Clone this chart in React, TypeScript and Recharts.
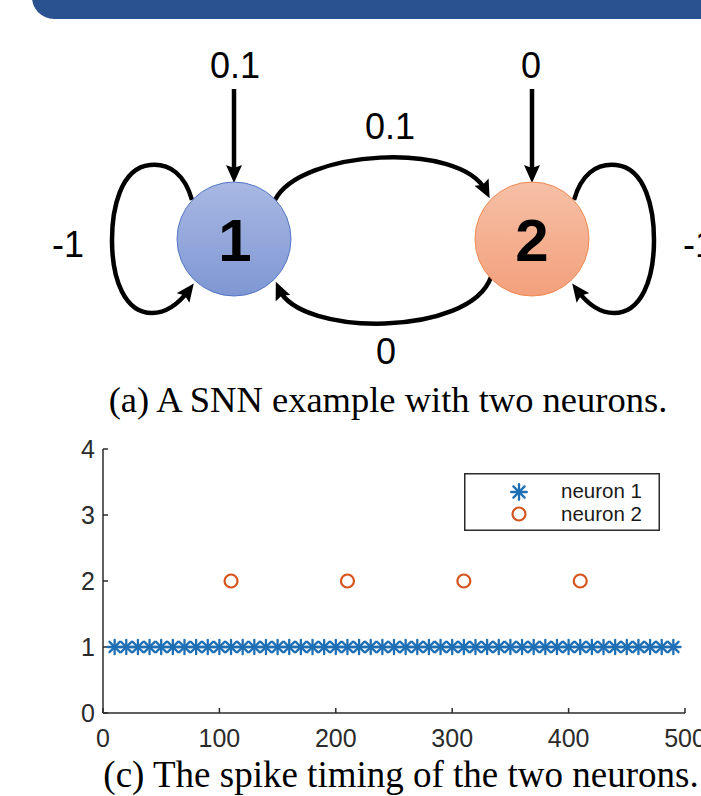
import React from "react"
import { ScatterChart, Scatter, XAxis, YAxis } from "recharts"

// ── Network weights (diagram) ─────────────────────────────────
const inputWeights = ["0.1", "0"]
const selfWeights = ["-1", "-1"]
const crossWeights = { w12: "0.1", w21: "0" }
const neuronNames = ["1", "2"]

// ── Spike timing (scatter) ────────────────────────────────────
const neuron1Times = [
  10, 20, 30, 40, 50, 60, 70, 80, 90, 100, 110, 120, 130, 140, 150, 160, 170,
  180, 190, 200, 210, 220, 230, 240, 250, 260, 270, 280, 290, 300, 310, 320,
  330, 340, 350, 360, 370, 380, 390, 400, 410, 420, 430, 440, 450, 460, 470,
  480, 490,
]
const neuron2Times = [110, 210, 310, 410]
const xTicks = [0, 100, 200, 300, 400, 500]
const yTicks = [0, 1, 2, 3, 4]
const seriesNames = ["neuron 1", "neuron 2"]

const BLUE = "#1F6FB5"
const ORANGE = "#D6541E"
const AXIS = "#2b2b2b"
const SANS = "'Liberation Sans', Arial, sans-serif"
const SERIF = "'Liberation Serif', 'Times New Roman', serif"

const spikes1 = neuron1Times.map((t) => ({ t, n: 1 }))
const spikes2 = neuron2Times.map((t) => ({ t, n: 2 }))

function StarMark({ cx, cy, r = 7.2 }: { cx: number; cy: number; r?: number }) {
  const d = r * 0.72
  return (
    <g stroke={BLUE} strokeWidth={2.3} strokeLinecap="round">
      <line x1={cx - r} y1={cy} x2={cx + r} y2={cy} />
      <line x1={cx} y1={cy - r} x2={cx} y2={cy + r} />
      <line x1={cx - d} y1={cy - d} x2={cx + d} y2={cy + d} />
      <line x1={cx - d} y1={cy + d} x2={cx + d} y2={cy - d} />
    </g>
  )
}

function CircleMark({ cx, cy }: { cx: number; cy: number }) {
  return <circle cx={cx} cy={cy} r={6.5} fill="none" stroke={ORANGE} strokeWidth={2.2} />
}

// legend box drawn on top of the plot (kept outside Recharts' Legend so it takes no plot space)
function SpikeLegend() {
  return (
    <svg width={196} height={58} style={{ position: "absolute", left: 464, top: 473 }}>
      <rect x={0.75} y={0.75} width={194.5} height={56.5} fill="#fff" stroke={AXIS} strokeWidth={1.5} />
      <StarMark cx={55} cy={19} r={7.8} />
      <CircleMark cx={55} cy={41} />
      <text x={97} y={25} fontSize={20.5} fontFamily={SANS} fill="#1a1a1a">{seriesNames[0]}</text>
      <text x={97} y={48} fontSize={20.5} fontFamily={SANS} fill="#1a1a1a">{seriesNames[1]}</text>
    </svg>
  )
}

function Diagram() {
  const lbl = { fontFamily: SANS, fontSize: 36, fill: "#000", textAnchor: "middle" as const }
  return (
    <svg width={701} height={420} style={{ position: "absolute", left: 0, top: 0 }}>
      <defs>
        <linearGradient id="blueNode" x1="0" y1="0" x2="0" y2="1">
          <stop offset="0%" stopColor="#A9B8E3" />
          <stop offset="100%" stopColor="#7E97D3" />
        </linearGradient>
        <linearGradient id="orangeNode" x1="0" y1="0" x2="0" y2="1">
          <stop offset="0%" stopColor="#F6C0A6" />
          <stop offset="100%" stopColor="#F3A07C" />
        </linearGradient>
        <marker id="head" viewBox="0 0 18 16" refX="10" refY="8" markerWidth="18" markerHeight="16" markerUnits="userSpaceOnUse" orient="auto">
          <path d="M0,0 L18,8 L0,16 L3,8 z" fill="#000" />
        </marker>
      </defs>

      {/* header band */}
      <rect x={32} y={-26} width={720} height={45} rx={22} fill="#2A5190" />

      {/* input arrows */}
      <line x1={234} y1={89} x2={234} y2={175} stroke="#000" strokeWidth={4.5} markerEnd="url(#head)" />
      <line x1={532} y1={89} x2={532} y2={175} stroke="#000" strokeWidth={4.5} markerEnd="url(#head)" />
      <text x={235} y={78} {...lbl}>{inputWeights[0]}</text>
      <text x={531} y={78} {...lbl}>{inputWeights[1]}</text>

      {/* cross connections */}
      <path d="M 275 200 C 300 150, 460 140, 486 191" fill="none" stroke="#000" strokeWidth={4.5} markerEnd="url(#head)" />
      <path d="M 491 277 C 470 337, 300 337, 279 289" fill="none" stroke="#000" strokeWidth={4.5} markerEnd="url(#head)" />
      <text x={390} y={139} {...lbl}>{crossWeights.w12}</text>
      <text x={386} y={364} {...lbl}>{crossWeights.w21}</text>

      {/* self loops */}
      <path d="M 192 200 C 185 175, 170 163, 150 165 C 120 168, 112 210, 112 240 C 112 280, 125 313, 152 313 C 168 313, 180 302, 189 290" fill="none" stroke="#000" strokeWidth={4.5} markerEnd="url(#head)" />
      <path d="M 574 200 C 581 175, 596 163, 616 165 C 646 168, 654 210, 654 240 C 654 280, 641 313, 614 313 C 598 313, 586 302, 577 290" fill="none" stroke="#000" strokeWidth={4.5} markerEnd="url(#head)" />
      <text x={68} y={257} {...lbl}>{selfWeights[0]}</text>
      <text x={699} y={257} {...lbl}>{selfWeights[1]}</text>

      {/* neurons */}
      <circle cx={234} cy={239} r={57} fill="url(#blueNode)" stroke="#5577C6" strokeWidth={1} />
      <circle cx={532} cy={239} r={57} fill="url(#orangeNode)" stroke="#EE8A52" strokeWidth={1} />
      <text x={235} y={261} fontFamily={SANS} fontWeight="bold" fontSize={60} textAnchor="middle">{neuronNames[0]}</text>
      <text x={532} y={261} fontFamily={SANS} fontWeight="bold" fontSize={60} textAnchor="middle">{neuronNames[1]}</text>

      <text x={388} y={412} fontFamily={SERIF} fontSize={36.5} textAnchor="middle" fill="#000">
        (a) A SNN example with two neurons.
      </text>
    </svg>
  )
}

export default function App() {
  const tick = { fill: AXIS, fontSize: 25, fontFamily: SANS }
  return (
    <div style={{ position: "absolute", left: 0, top: 0, width: 701, height: 796, overflow: "hidden", background: "#fff" }}>
      <Diagram />
      <div style={{ position: "absolute", left: 0, top: 420 }}>
        <ScatterChart width={701} height={345} margin={{ top: 29, right: 16, bottom: 22, left: 63 }}>
          <XAxis
            dataKey="t"
            type="number"
            domain={[0, 500]}
            ticks={xTicks}
            interval={0}
            height={30}
            tick={tick}
            tickSize={-5}
            tickMargin={21}
            axisLine={{ stroke: AXIS, strokeWidth: 1.5 }}
            tickLine={{ stroke: AXIS, strokeWidth: 1.5 }}
          />
          <YAxis
            dataKey="n"
            type="number"
            domain={[0, 4]}
            ticks={yTicks}
            interval={0}
            width={40}
            tick={tick}
            tickSize={-5}
            tickMargin={13}
            axisLine={{ stroke: AXIS, strokeWidth: 1.5 }}
            tickLine={{ stroke: AXIS, strokeWidth: 1.5 }}
          />
          <Scatter
            name={seriesNames[0]}
            data={spikes1}
            isAnimationActive={false}
            shape={(p: any) => <StarMark cx={p.cx} cy={p.cy} />}
          />
          <Scatter
            name={seriesNames[1]}
            data={spikes2}
            isAnimationActive={false}
            shape={(p: any) => <CircleMark cx={p.cx} cy={p.cy} />}
          />
        </ScatterChart>
      </div>
      <SpikeLegend />
      <svg width={701} height={50} style={{ position: "absolute", left: 0, top: 750 }}>
        <text x={401} y={37} fontFamily={SERIF} fontSize={37} textAnchor="middle" fill="#000">
          (c) The spike timing of the two neurons.
        </text>
      </svg>
    </div>
  )
}
